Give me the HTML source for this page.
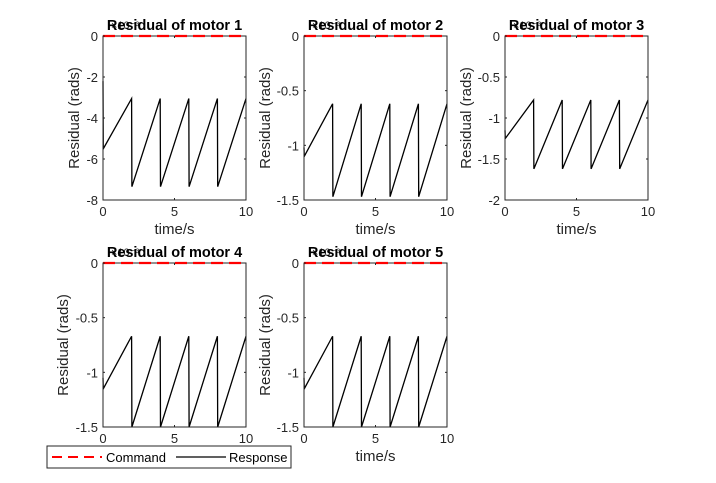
<!DOCTYPE html>
<html><head><meta charset="utf-8"><style>
body{margin:0;background:#fff;width:716px;height:478px;overflow:hidden;font-family:"Liberation Sans",Arial,sans-serif}
svg text{font-family:"Liberation Sans",Arial,sans-serif}
</style></head><body>
<svg id="fig" width="716" height="478" xmlns="http://www.w3.org/2000/svg">
<rect width="716" height="478" fill="#fff"/>
</svg>
<script>
const titles=["Residual of motor 1","Residual of motor 2","Residual of motor 3","Residual of motor 4","Residual of motor 5"];
const yMins=[-8,-1.5,-2,-1.5,-1.5];
const yTickLabels=[["0","-2","-4","-6","-8"],["0","-0.5","-1","-1.5"],["0","-0.5","-1","-1.5","-2"],["0","-0.5","-1","-1.5"],["0","-0.5","-1","-1.5"]];
const yTickVals=[[0,-2,-4,-6,-8],[0,-0.5,-1,-1.5],[0,-0.5,-1,-1.5,-2],[0,-0.5,-1,-1.5],[0,-0.5,-1,-1.5]];
const xTicks=[0,5,10];
const times=[0,0.02,2,2.02,4,4.02,6,6.02,8,8.02,10];
const resp1=[-2.2,-5.5,-3.05,-7.35,-3.05,-7.35,-3.05,-7.35,-3.05,-7.35,-3.05];
const resp2=[-1.02,-1.1,-0.62,-1.47,-0.62,-1.47,-0.62,-1.47,-0.62,-1.47,-0.62];
const resp3=[-1.15,-1.25,-0.78,-1.62,-0.78,-1.62,-0.78,-1.62,-0.78,-1.62,-0.78];
const resp4=[-1.05,-1.15,-0.67,-1.5,-0.67,-1.5,-0.67,-1.5,-0.67,-1.5,-0.67];
const resp5=[-1.05,-1.15,-0.67,-1.5,-0.67,-1.5,-0.67,-1.5,-0.67,-1.5,-0.67];
const cmd=[0,0];
const cmdT=[0,10];
const responses=[resp1,resp2,resp3,resp4,resp5];
const boxes=[[103,36],[304,36],[505,36],[103,263],[304,263]];
const ylabOff=[24,34,34,35,34];
const W=143,H=164;
const NS="http://www.w3.org/2000/svg";
const svg=document.getElementById('fig');
function mk(tag,attrs,parent){const e=document.createElementNS(NS,tag);for(const k in attrs)e.setAttribute(k,attrs[k]);(parent||svg).appendChild(e);return e;}
responses.forEach((resp,i)=>{
  const [x0,y0]=boxes[i];
  const g=mk('g',{});
  
  
  const sx=t=>x0+t/10*W;
  const sy=v=>y0+(v/yMins[i])*H;
  const bg=mk('rect',{x:x0,y:y0,width:W,height:H,fill:'#fff'},g);
  
  
  const pr=mk('polyline',{points:times.map((t,k)=>sx(t)+','+sy(resp[k])).join(' '),fill:'none',stroke:'#000','stroke-width':1.3},g);
  
  
  const fr=mk('rect',{x:x0,y:y0,width:W,height:H,fill:'none',stroke:'#262626','stroke-width':1},g);
  
  
  const pc=mk('polyline',{points:cmdT.map((t,k)=>sx(t)+','+sy(cmd[k])).join(' '),fill:'none',stroke:'#ff0000','stroke-width':2.2,'stroke-dasharray':'12,6'},g);
  
  
  xTicks.forEach(t=>{
    mk('line',{x1:sx(t),x2:sx(t),y1:y0+H,y2:y0+H-2,stroke:'#262626'},g);
    mk('line',{x1:sx(t),x2:sx(t),y1:y0,y2:y0+2,stroke:'#262626'},g);
    const tx=mk('text',{x:sx(t),y:y0+H+16,'font-size':13,fill:'#262626','text-anchor':'middle'},g);
    tx.textContent=t;
    
    
  });
  yTickVals[i].forEach((v,k)=>{
    mk('line',{x1:x0,x2:x0+2,y1:sy(v),y2:sy(v),stroke:'#262626'},g);
    mk('line',{x1:x0+W,x2:x0+W-2,y1:sy(v),y2:sy(v),stroke:'#262626'},g);
    const ty=mk('text',{x:x0-5,y:sy(v)+5,'font-size':13,fill:'#262626','text-anchor':'end'},g);
    ty.textContent=yTickLabels[i][k];
    
    
  });
  const ex=mk('text',{x:x0+8,y:y0-7,'font-size':11,fill:'#262626'},g);
  ex.textContent='×10⁻³';
  
  
  const ti=mk('text',{x:x0+W/2,y:y0-6,'font-size':14.5,'font-weight':'bold',fill:'#000','text-anchor':'middle'},g);
  ti.textContent=titles[i];
  
  
  const xl=mk('text',{x:x0+W/2,y:y0+H+34,'font-size':15,fill:'#262626','text-anchor':'middle'},g);
  xl.textContent='time/s';
  
  
  const cx=x0-ylabOff[i], cy=y0+H/2;
  const yl=mk('text',{x:cx,y:cy,'font-size':15,fill:'#262626','text-anchor':'middle',transform:'rotate(-90 '+cx+' '+cy+')'},g);
  yl.textContent='Residual (rads)';
  
  
});
const lg=mk('g',{});


mk('rect',{x:47,y:446,width:244,height:22,fill:'#fff',stroke:'#262626','stroke-width':1},lg);
mk('line',{x1:52,x2:102,y1:457,y2:457,stroke:'#ff0000','stroke-width':2,'stroke-dasharray':'10,6'},lg);
const l1=mk('text',{x:106,y:462,'font-size':13,fill:'#000'},lg);
l1.textContent='Command';


mk('line',{x1:176,x2:226,y1:457,y2:457,stroke:'#000','stroke-width':1.3},lg);
const l2=mk('text',{x:229,y:462,'font-size':13,fill:'#000'},lg);
l2.textContent='Response';


</script>
</body></html>
